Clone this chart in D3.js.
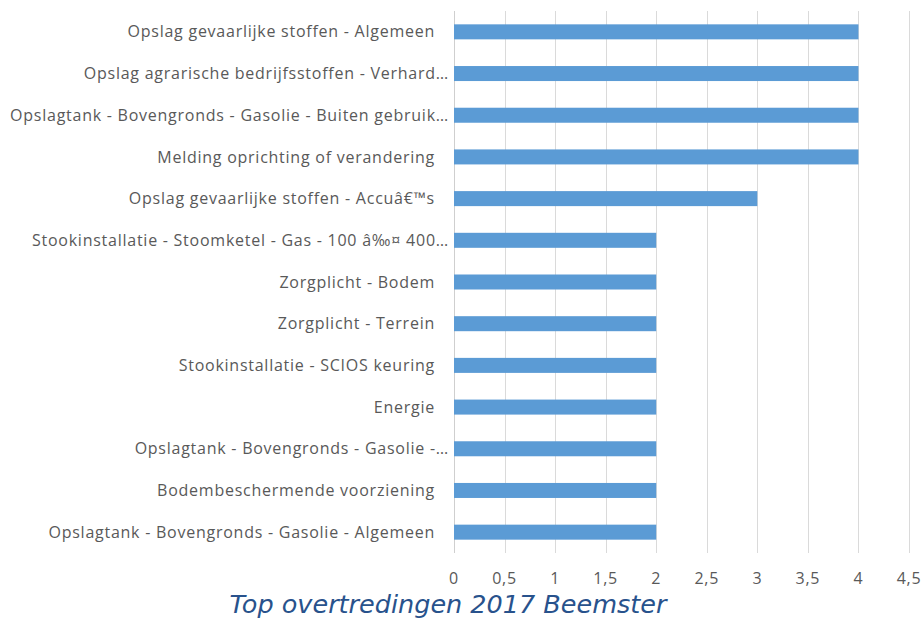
<!DOCTYPE html>
<html><head><meta charset="utf-8">
<script src="https://cdn.jsdelivr.net/npm/d3@7"></script>
<style>body{margin:0;background:#fff}svg{display:block}</style>
</head><body>
<script>
const categories = [
  "Opslag gevaarlijke stoffen - Algemeen",
  "Opslag agrarische bedrijfsstoffen - Verhard…",
  "Opslagtank - Bovengronds - Gasolie - Buiten gebruik…",
  "Melding oprichting of verandering",
  "Opslag gevaarlijke stoffen - Accuâ€™s",
  "Stookinstallatie - Stoomketel - Gas - 100 â‰¤ 400…",
  "Zorgplicht - Bodem",
  "Zorgplicht - Terrein",
  "Stookinstallatie - SCIOS keuring",
  "Energie",
  "Opslagtank - Bovengronds - Gasolie -…",
  "Bodembeschermende voorziening",
  "Opslagtank - Bovengronds - Gasolie - Algemeen"
];
const values = [4, 4, 4, 4, 3, 2, 2, 2, 2, 2, 2, 2, 2];
const tickValues = [0, 0.5, 1, 1.5, 2, 2.5, 3, 3.5, 4, 4.5];
const tickLabels = ["0", "0,5", "1", "1,5", "2", "2,5", "3", "3,5", "4", "4,5"];
const title = "Top overtredingen 2017 Beemster";

const W = 923, H = 619;
const svg = d3.select("body").append("svg").attr("width", W).attr("height", H);
const x = d3.scaleLinear().domain([0, 4.5]).range([454, 909]);
const y = d3.scaleBand().domain(categories).range([11, 553]).paddingInner(0.64).paddingOuter(0.32);

// gridlines
svg.append("g").selectAll("line").data(tickValues).join("line")
  .attr("x1", d => Math.round(x(d)) + 0.5).attr("x2", d => Math.round(x(d)) + 0.5)
  .attr("y1", 11).attr("y2", 553)
  .attr("stroke", d => d === 0 ? "#cfcfcf" : "#dadada").attr("stroke-width", 1);

// bars
svg.append("g").selectAll("rect").data(values).join("rect")
  .attr("x", x(0)).attr("y", (d, i) => y(categories[i]))
  .attr("width", d => x(d) - x(0)).attr("height", y.bandwidth())
  .attr("fill", "#5b9bd5");

// category labels
svg.append("g").selectAll("text").data(categories).join("text")
  .attr("x", d => d.endsWith("…") ? 449 : 435)
  .attr("y", d => y(d) + y.bandwidth() / 2)
  .attr("dy", "0.35em").attr("text-anchor", "end")
  .attr("font-family", "Open Sans, sans-serif").attr("font-size", 16)
  .attr("letter-spacing", 0.75)
  .attr("fill", "#595959").text(d => d);

// x tick labels
svg.append("g").selectAll("text").data(tickValues).join("text")
  .attr("x", d => x(d)).attr("y", 578).attr("dy", "0.35em")
  .attr("text-anchor", "middle")
  .attr("font-family", "Open Sans, sans-serif").attr("font-size", 16)
  .attr("letter-spacing", 0.75)
  .attr("fill", "#595959").text((d, i) => tickLabels[i]);

// title
svg.append("text").attr("x", 448).attr("y", 604).attr("dy", "0.35em")
  .attr("text-anchor", "middle").attr("font-family", "Verdana, DejaVu Sans, sans-serif")
  .attr("font-style", "italic").attr("font-size", 25.5).attr("fill", "#28528c")
  .text(title);
</script>
</body></html>
